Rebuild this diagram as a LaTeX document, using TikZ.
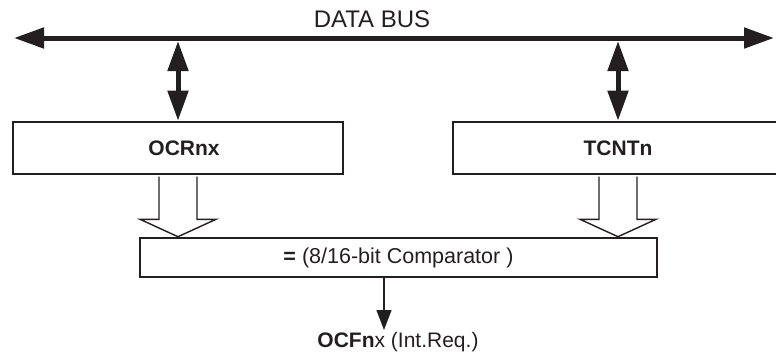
\documentclass[tikz,border=0pt]{standalone}
\usepackage{fontspec}
\setmainfont{Liberation Sans}
\usetikzlibrary{arrows.meta,calc}
\definecolor{ink}{HTML}{231F20}
\begin{document}
\begin{tikzpicture}[x=1pt,y=-1pt,
  box/.style={draw=ink, line width=2.6pt, minimum height=52pt, inner sep=0pt,
    font=\fontsize{21}{24}\selectfont\bfseries, text=ink},
  lbl/.style={inner sep=2pt, text=ink},
  busarrow/.style={draw=ink, line width=5pt,
    {Triangle[length=30pt,width=20pt]}-{Triangle[length=30pt,width=20pt]}},
  hollow/.style={draw=ink, line width=1.4pt, fill=white, line join=miter},
  outarrow/.style={draw=ink, line width=1.3pt, -{Triangle[length=20pt,width=15pt]}}]
\useasboundingbox (0,0) rectangle (776,354);
\clip (0,0) rectangle (776,354);

% data bus
\coordinate (busL) at (14,38);
\coordinate (busR) at (774,38);
\node[lbl, font=\fontsize{24}{28}\selectfont] (bus) at (372,19) {DATA BUS};
\draw[busarrow] (busL) -- (busR);

% registers
\node[box, minimum width=330pt] (ocr) at (178,148) {\hspace*{12pt}OCRnx};
\node[box, minimum width=330pt] (tcnt) at (618,148) {TCNTn};

% comparator
\node[box, minimum width=517pt, minimum height=39pt,
      font=\fontsize{21.5}{24}\selectfont] (cmp) at (398.5,257.5)
      {\textbf{=} (8/16-bit Comparator )};

% output label
\node[lbl, font=\fontsize{21}{24}\selectfont] (ocf) at (398,342) {\textbf{OCFn}x (Int.Req.)};

% bidirectional bus connections
\draw[busarrow] ($(ocr.north |- busL)+(0,3)$) -- (ocr.north);
\draw[busarrow] ($(tcnt.north |- busL)+(0,3)$) -- (tcnt.north);

% hollow arrows
\draw[hollow] ($(ocr.south)+(-19,1.3)$) -- ($(ocr.south)+(-19,44)$) -- ($(ocr.south)+(-38,44)$)
  -- (ocr.south |- cmp.north) -- ($(ocr.south)+(38,44)$) -- ($(ocr.south)+(19,44)$) -- ($(ocr.south)+(19,1.3)$);
\draw[hollow] ($(tcnt.south)+(-19,1.3)$) -- ($(tcnt.south)+(-19,44)$) -- ($(tcnt.south)+(-38,44)$)
  -- (tcnt.south |- cmp.north) -- ($(tcnt.south)+(38,44)$) -- ($(tcnt.south)+(19,44)$) -- ($(tcnt.south)+(19,1.3)$);

% output arrow
\coordinate (outS) at ($(cmp.south)+(-14.5,0)$);
\draw[outarrow] (outS) -- (outS |- ocf.north);
\end{tikzpicture}
\end{document}
